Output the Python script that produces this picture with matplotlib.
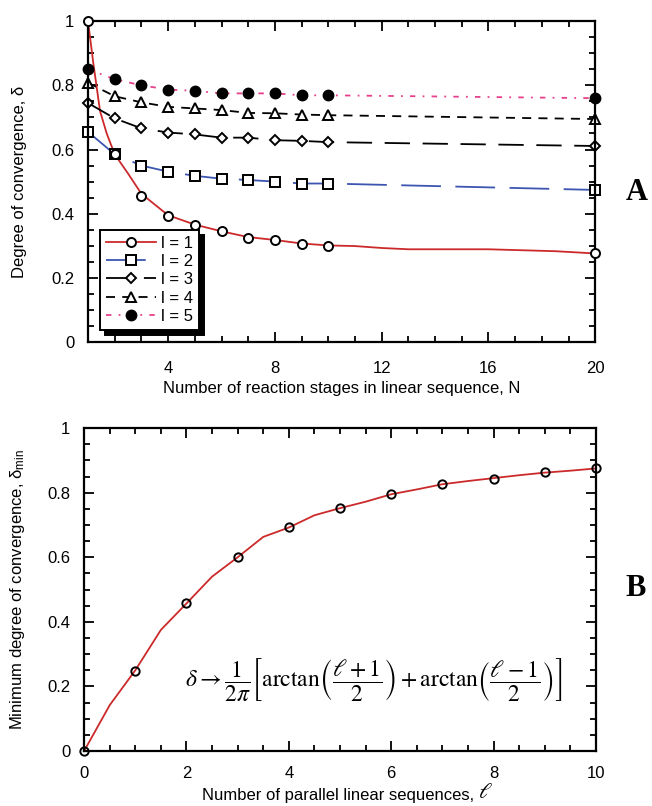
import matplotlib
matplotlib.use("Agg")
import matplotlib.pyplot as plt
from matplotlib.ticker import MultipleLocator

plt.rcParams["font.family"] = ["Liberation Sans", "DejaVu Sans"]
plt.rcParams["mathtext.fontset"] = "stix"

# Panel A: degree of convergence vs number of stages N
N = [1, 2, 3, 4, 5, 6, 7, 8, 9, 10, 20]
delta_l1 = [1.0, 0.585, 0.455, 0.393, 0.364, 0.346, 0.325, 0.318, 0.306, 0.300, 0.276]
delta_l2 = [0.655, 0.585, 0.550, 0.531, 0.518, 0.509, 0.505, 0.500, 0.494, 0.494, 0.474]
delta_l3 = [0.745, 0.697, 0.666, 0.653, 0.647, 0.637, 0.637, 0.629, 0.627, 0.623, 0.611]
delta_l4 = [0.808, 0.766, 0.747, 0.733, 0.728, 0.723, 0.714, 0.713, 0.709, 0.707, 0.695]
delta_l5 = [0.850, 0.819, 0.800, 0.787, 0.783, 0.775, 0.775, 0.775, 0.769, 0.769, 0.760]

# simulated curve for l = 1 (line only)
N_curve_l1 = [1, 1.2, 1.45, 1.7, 2, 2.5, 3, 4, 5, 6, 7, 8, 9, 10, 11, 12, 13, 16, 18.5, 20]
curve_l1 = [1.0, 0.868, 0.72, 0.65, 0.585, 0.525, 0.462, 0.395, 0.366, 0.345, 0.327,
            0.318, 0.307, 0.301, 0.299, 0.293, 0.289, 0.289, 0.283, 0.276]

# Panel B: minimum degree of convergence vs number of parallel sequences
ell = [0, 1, 2, 3, 4, 5, 6, 7, 8, 9, 10]
delta_min = [0.0, 0.248, 0.459, 0.602, 0.693, 0.751, 0.795, 0.826, 0.843, 0.863, 0.875]
ell_curve = [0, 0.5, 1, 1.5, 2, 2.5, 3, 3.5, 4, 4.5, 5, 5.5, 6, 6.5, 7, 7.5, 8, 8.5, 9, 9.5, 10]
delta_min_curve = [0.0, 0.142, 0.25, 0.375, 0.457, 0.54, 0.60, 0.663, 0.692, 0.73, 0.752,
                   0.772, 0.795, 0.81, 0.826, 0.836, 0.845, 0.854, 0.862, 0.868, 0.875]

red = "#cc2a2a"
blue = "#3c55b0"
pink = "#e8408c"
fs = 12

fig = plt.figure(figsize=(6.52, 8.06), dpi=100)
axA = fig.add_axes([0.135, 0.5757, 0.778, 0.398])
axB = fig.add_axes([0.129, 0.0682, 0.785, 0.4007])


def style_axes(ax, xpad):
    for s in ax.spines.values():
        s.set_linewidth(1.6)
    ax.tick_params(which="both", direction="in", top=True, right=True, width=1.3,
                   labelsize=fs)
    ax.tick_params(axis="x", which="both", pad=xpad)
    ax.tick_params(axis="y", which="both", pad=10)
    ax.tick_params(which="major", length=7)
    ax.tick_params(which="minor", length=4)
    ax.yaxis.set_major_locator(MultipleLocator(0.2))
    ax.yaxis.set_minor_locator(MultipleLocator(0.05))
    ax.yaxis.set_major_formatter(plt.FuncFormatter(lambda v, p: f"{v:g}"))


# ---- panel A ----
mk = dict(markersize=6.5, markeredgewidth=1.4, markeredgecolor="black")
axA.plot(N_curve_l1, curve_l1, color=red, lw=1.3, zorder=2)
axA.plot(N, delta_l1, ls="none", marker="o", markerfacecolor="white", zorder=3,
         clip_on=False, **mk)
axA.plot([], [], color=red, lw=1.3, marker="o", markerfacecolor="white", label="l = 1", **mk)

axA.plot(N, delta_l2, color=blue, lw=1.3, dashes=(22, 8), marker="s",
         markerfacecolor="white", label="l = 2", clip_on=False, **mk)
axA.plot(N, delta_l3, color="black", lw=1.3, dashes=(14, 7), marker="D",
         markerfacecolor="white", label="l = 3", markersize=5, markeredgewidth=1.4,
         markeredgecolor="black", clip_on=False)
axA.plot(N, delta_l4, color="black", lw=1.3, dashes=(5, 4), marker="^",
         markerfacecolor="white", label="l = 4", clip_on=False, **mk)
axA.plot(N, delta_l5, color=pink, lw=1.3, dashes=(3, 4, 1, 4), marker="o",
         markerfacecolor="black", label="l = 5", markersize=7.5, markeredgecolor="black",
         clip_on=False)

axA.set_xlim(1, 20)
axA.set_ylim(0, 1)
axA.xaxis.set_major_locator(MultipleLocator(4))
axA.xaxis.set_minor_locator(MultipleLocator(1))
style_axes(axA, 14)
axA.set_xlabel("Number of reaction stages in linear sequence, N", fontsize=fs)
axA.set_ylabel("Degree of convergence, δ", fontsize=fs)
axA.xaxis.set_label_coords(0.5, -0.122)
axA.yaxis.set_label_coords(-0.12, 0.5)

leg = axA.legend(loc="lower left", bbox_to_anchor=(0.008, 0.012), fontsize=fs,
                 handlelength=3.0, labelspacing=0.2, handletextpad=0.3,
                 borderpad=0.35, fancybox=False, framealpha=1,
                 edgecolor="black", shadow={"color": "black", "alpha": 1, "ox": 3.5, "oy": -3.5})
leg.get_frame().set_linewidth(1.4)

# ---- panel B ----
axB.plot(ell_curve, delta_min_curve, color=red, lw=1.3, zorder=2)
axB.plot(ell, delta_min, ls="none", marker="o", markerfacecolor="none", zorder=3,
         clip_on=False, markersize=6, markeredgewidth=1.4, markeredgecolor="black")
axB.set_xlim(0, 10)
axB.set_ylim(0, 1)
axB.xaxis.set_major_locator(MultipleLocator(2))
axB.xaxis.set_minor_locator(MultipleLocator(0.5))
style_axes(axB, 11)
axB.set_ylabel(r"Minimum degree of convergence, $\mathregular{\delta_{min}}$", fontsize=fs)
axB.yaxis.set_label_coords(-0.111, 0.5)
axB.set_xlabel("Number of parallel linear sequences, ", fontsize=fs)
axB.xaxis.set_label_coords(0.5, -0.116)

axB.text(5.65, 0.22,
         r"$\delta \rightarrow \dfrac{1}{2\pi}\left[\mathrm{arctan}\left(\dfrac{\ell+1}{2}\right)"
         r"+\mathrm{arctan}\left(\dfrac{\ell-1}{2}\right)\right]$",
         fontsize=17, ha="center", va="center")

fig.text(637 / 652, 1 - 192 / 806, "A", fontsize=22, fontweight="bold",
         family="Liberation Serif", ha="center", va="center")
fig.text(636 / 652, 1 - 588 / 806, "B", fontsize=22, fontweight="bold",
         family="Liberation Serif", ha="center", va="center")

fig.canvas.draw()
bb = axB.xaxis.label.get_window_extent()
fig.text(bb.x1 / fig.bbox.width, bb.y0 / fig.bbox.height, r"$\ell$", fontsize=16,
         ha="left", va="bottom")

fig.savefig("out.png", dpi=100)
